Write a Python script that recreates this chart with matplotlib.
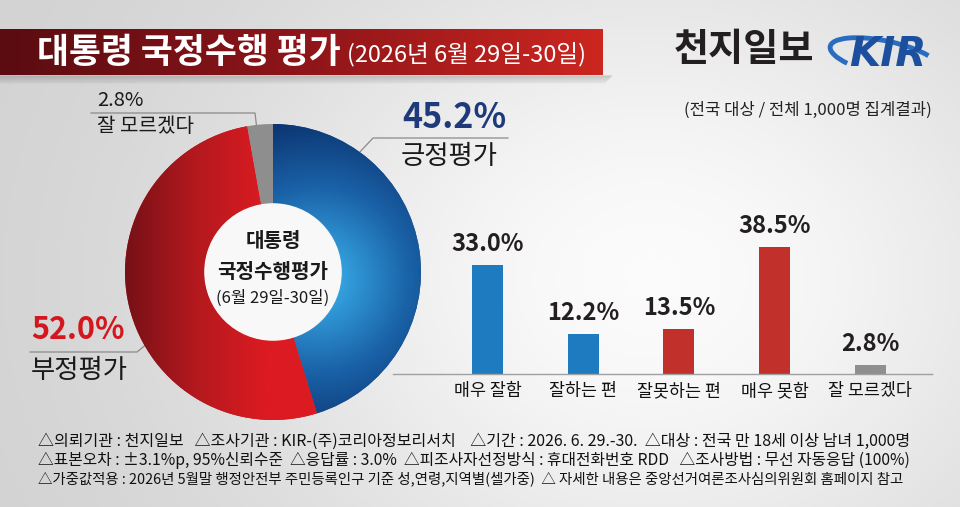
"""
President job approval chart (donut + bar).
"""

import numpy as np
import matplotlib
matplotlib.use("Agg")
import matplotlib.pyplot as plt
from matplotlib.colors import LinearSegmentedColormap
from matplotlib.patches import Circle, Arc

plt.rcParams["font.family"] = ["Noto Sans CJK KR", "DejaVu Sans"]

# ---- data ----
title_main = "대통령 국정수행 평가"
title_sub = "(2026년 6월 29일-30일)"
brand = "천지일보"
scope_note = "(전국 대상 / 전체 1,000명 집계결과)"

pie_labels = ["긍정평가", "부정평가", "잘 모르겠다"]
pie_values = [45.2, 52.0, 2.8]
center_lines = ["대통령", "국정수행평가", "(6월 29일-30일)"]

bar_labels = ["매우 잘함", "잘하는 편", "잘못하는 편", "매우 못함", "잘 모르겠다"]
bar_values = [33.0, 12.2, 13.5, 38.5, 2.8]
bar_colors = ["#1f7bc0", "#1f7bc0", "#c1302a", "#c1302a", "#8f8f8f"]

footer_lines = [
    "△의뢰기관 : 천지일보   △조사기관 : KIR-(주)코리아정보리서치    △기간 : 2026. 6. 29.-30.  △대상 : 전국 만 18세 이상 남녀 1,000명",
    "△표본오차 : ±3.1%p, 95%신뢰수준  △응답률 : 3.0%  △피조사자선정방식 : 휴대전화번호 RDD   △조사방법 : 무선 자동응답 (100%)",
    "△가중값적용 : 2026년 5월말 행정안전부 주민등록인구 기준 성,연령,지역별(셀가중)  △ 자세한 내용은 중앙선거여론조사심의위원회 홈페이지 참고",
]
footer_widths = [874, 874, 870]

W, H = 960, 507

fig = plt.figure(figsize=(9.6, 5.07), dpi=100)

# ---- background ----
bg = fig.add_axes([0, 0, 1, 1])
bg.set_xlim(0, W)
bg.set_ylim(H, 0)
bg.axis("off")

gx, gy = np.meshgrid(np.linspace(0, 1, 240), np.linspace(0, 1, 127))
glow = np.exp(-(((gx - 0.68) / 0.45) ** 2 + ((gy - 0.55) / 0.7) ** 2))
bg_cmap = LinearSegmentedColormap.from_list("bg", ["#d3d3d3", "#fbfbfb"])
bg.imshow(glow, cmap=bg_cmap, extent=[0, W, H, 0], aspect="auto", zorder=0)

# banner with shadow
for k in range(8):
    bg.add_patch(plt.Rectangle(
        (0, 75 + k),
        612 - k,
        2,
        color="black",
        alpha=0.09 - k * 0.01,
        lw=0,
        zorder=1
    ))
banner_cmap = LinearSegmentedColormap.from_list("banner", ["#5a0c11", "#8e1519", "#cc2620"])
bg.imshow(
    np.linspace(0, 1, 200).reshape(1, -1),
    cmap=banner_cmap,
    extent=[0, 603, 75, 29],
    aspect="auto",
    zorder=2
)
bg.text(37, 52, title_main, color="white", fontsize=25, fontweight="bold",
        va="center", zorder=3)
bg.text(347, 55, title_sub, color="white", fontsize=17,
        va="center", zorder=3)

# brand + logo
bg.text(674, 50, brand, color="#231f20", fontsize=27.5, fontweight="bold",
        va="center", zorder=3)
bg.add_patch(Arc((885, 58), 112, 34, angle=12, theta1=160, theta2=345,
                 color="#2a6cc0", lw=3.5, zorder=3))
bg.text(888, 55, "KIR", color="#1d4f9f", fontsize=29, fontweight="heavy",
        style="italic", family="DejaVu Sans", ha="center", va="center", zorder=4)
bg.text(932, 110, scope_note, color="#222222", fontsize=12,
        ha="right", va="center", zorder=3)

# ---- donut ----
cx, cy, rad = 273, 272, 148
pax = fig.add_axes([(cx - rad) / W, (H - cy - rad) / H, 2 * rad / W, 2 * rad / H])
pax.patch.set_alpha(0)

wedges, _ = pax.pie(
    pie_values,
    startangle=90,
    counterclock=False,
    radius=1,
    colors=["#17518f", "#c01a1f", "#8e8e8e"],
    wedgeprops=dict(width=0.54, edgecolor="none")
)
pax.set_xlim(-1, 1)
pax.set_ylim(-1, 1)

px, py = np.meshgrid(np.linspace(-1, 1, 300), np.linspace(-1, 1, 300))
blue_cmap = LinearSegmentedColormap.from_list("blue", ["#35a3e0", "#1a62a8", "#0c3470"])
dist = np.clip((np.hypot(px - 0.3, py + 0.05) - 0.15) / 0.95, 0, 1)
im = pax.imshow(dist, cmap=blue_cmap, extent=[-1, 1, -1, 1], origin="lower", zorder=2)
im.set_clip_path(wedges[0])

red_cmap = LinearSegmentedColormap.from_list("red", ["#761117", "#b3191e", "#db1b21"])
lin = np.clip((px + 1) / 0.95, 0, 1)
im = pax.imshow(lin, cmap=red_cmap, extent=[-1, 1, -1, 1], origin="lower", zorder=2)
im.set_clip_path(wedges[1])

pax.add_patch(Circle((0, 0), 0.46, color="#f8f8f8", zorder=3))
pax.text(0, 0.21, center_lines[0], fontsize=14.5, fontweight="bold", color="#1a1a1a",
         ha="center", va="center", zorder=4)
pax.text(0, 0.005, center_lines[1], fontsize=14.5, fontweight="bold", color="#1a1a1a",
         ha="center", va="center", zorder=4)
pax.text(0, -0.18, center_lines[2], fontsize=12, color="#1a1a1a",
         ha="center", va="center", zorder=4)

# donut callouts
line_kw = dict(color="#8a8a8a", lw=0.9, zorder=3)

bg.plot([343, 373, 508], [170, 138, 138], **line_kw)
bg.text(402, 118, f"{pie_values[0]:.1f}%", color="#1e3a7b", fontsize=24.5,
        fontweight="bold", va="center", zorder=3)
bg.text(401, 157, pie_labels[0], color="#1a1a1a", fontsize=19,
        va="center", zorder=3)

bg.plot([170, 137, 30], [325, 352, 352], **line_kw)
bg.text(31, 330, f"{pie_values[1]:.1f}%", color="#d4171e", fontsize=22,
        fontweight="bold", va="center", zorder=3)
bg.text(31, 370, pie_labels[1], color="#1a1a1a", fontsize=19,
        va="center", zorder=3)

bg.plot([257, 255, 91], [130, 113, 113], **line_kw)
bg.text(97, 101, f"{pie_values[2]:.1f}%", color="#1a1a1a", fontsize=14.5,
        va="center", zorder=3)
bg.text(97, 127, pie_labels[2], color="#1a1a1a", fontsize=14.5,
        va="center", zorder=3)

# ---- bars ----
base_y, left_x, right_x = 374, 393, 932
bax = fig.add_axes([left_x / W, (H - base_y) / H, (right_x - left_x) / W, 140 / H])
bax.patch.set_alpha(0)

x = np.arange(len(bar_values))
bax.bar(x, bar_values, width=0.324, color=bar_colors)

for i, v in enumerate(bar_values):
    bax.annotate(
        f"{v:.1f}%",
        (i, v),
        xytext=(0, 6.5),
        textcoords="offset points",
        ha="center",
        va="bottom",
        fontsize=17,
        fontweight="bold",
        color="#231f20"
    )

bax.set_xlim(-0.987, 4.645)
bax.set_ylim(0, 140 / 3.31)
bax.set_xticks(x)
bax.set_xticklabels(bar_labels, fontsize=12.5, color="#111111", fontweight="medium")
bax.tick_params(axis="x", length=0, pad=6)
bax.set_yticks([])
for side in ["top", "right", "left"]:
    bax.spines[side].set_visible(False)
bax.spines["bottom"].set_color("#a0a0a0")
bax.spines["bottom"].set_linewidth(1)

# ---- footer ----
# each line is fitted to the width it has in the reference
renderer = fig.canvas.get_renderer()
for k, line in enumerate(footer_lines):
    t = bg.text(38, 441 + k * 19, line, fontsize=11.6, color="#111111",
                va="center", zorder=3)
    w = t.get_window_extent(renderer=renderer).width
    t.set_fontsize(11.6 * footer_widths[k] / w)

fig.savefig("out.png", dpi=100)
